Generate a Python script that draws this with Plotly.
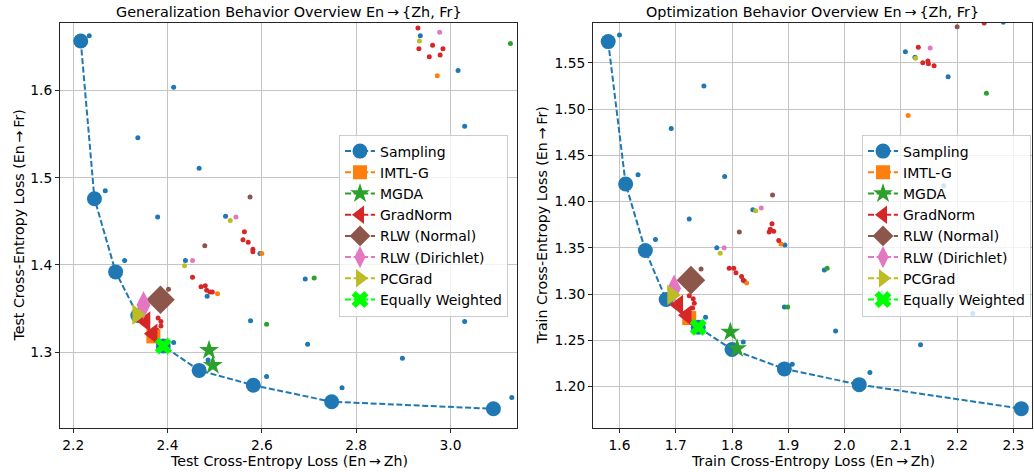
import plotly.graph_objects as go

FONT = "DejaVu Sans"
BLUE, ORANGE, GREEN, RED = "#1f77b4", "#ff7f0e", "#2ca02c", "#d62728"
BROWN, PINK, OLIVE, LIME = "#8c564b", "#e377c2", "#bcbd22", "#00ff00"

# ---------------- Left: test (generalization) ----------------
test_sampling_x = [2.216, 2.245, 2.290, 2.337, 2.391, 2.467, 2.582, 2.748, 3.091]
test_sampling_y = [1.657, 1.476, 1.392, 1.342, 1.307, 1.279, 1.262, 1.243, 1.235]
test_imtl_x = [2.370]
test_imtl_y = [1.318]
test_mgda_x = [2.488, 2.496]
test_mgda_y = [1.302, 1.285]
test_gradnorm_x = [2.354, 2.369]
test_gradnorm_y = [1.335, 1.321]
test_rlwn_x = [2.385]
test_rlwn_y = [1.360]
test_rlwd_x = [2.349]
test_rlwd_y = [1.354]
test_pcgrad_x = [2.335]
test_pcgrad_y = [1.343]
test_ew_x = [2.391]
test_ew_y = [1.307]

test_dots_blue_x = [2.234, 2.413, 2.337, 2.467, 2.268, 2.379, 2.523, 2.936, 3.016, 3.030,
                    2.596, 2.438, 2.309, 2.484, 2.692, 2.576, 2.413, 2.697, 2.486, 2.610,
                    2.770, 2.898, 3.030, 3.130, 2.819]
test_dots_blue_y = [1.663, 1.604, 1.546, 1.511, 1.485, 1.455, 1.456, 1.663, 1.623, 1.559,
                    1.413, 1.405, 1.405, 1.364, 1.384, 1.336, 1.311, 1.309, 1.291, 1.272,
                    1.259, 1.293, 1.335, 1.248, 1.357]
test_dots_orange_x = [2.972, 2.600, 2.506]
test_dots_orange_y = [1.617, 1.413, 1.367]
test_dots_green_x = [3.127, 2.711, 2.610]
test_dots_green_y = [1.654, 1.385, 1.332]
test_dots_red_x = [2.931, 2.933, 2.962, 2.984, 2.955, 2.978, 2.563, 2.560, 2.571, 2.581,
                   2.581, 2.453, 2.471, 2.480, 2.483, 2.490, 2.495, 2.380, 2.386, 2.386, 2.378]
test_dots_red_y = [1.672, 1.648, 1.652, 1.648, 1.639, 1.641, 1.438, 1.429, 1.426, 1.418,
                   1.415, 1.386, 1.375, 1.376, 1.371, 1.369, 1.369, 1.339, 1.335, 1.330, 1.325]
test_dots_pink_x = [2.977, 2.545, 2.453]
test_dots_pink_y = [1.667, 1.455, 1.405]
test_dots_olive_x = [2.934, 2.533, 2.436]
test_dots_olive_y = [1.657, 1.451, 1.399]
test_dots_brown_x = [2.479, 2.402, 2.575]
test_dots_brown_y = [1.422, 1.372, 1.478]

# ---------------- Right: train (optimization) ----------------
train_sampling_x = [1.580, 1.611, 1.646, 1.683, 1.740, 1.800, 1.893, 2.026, 2.314]
train_sampling_y = [1.573, 1.419, 1.347, 1.294, 1.264, 1.240, 1.219, 1.202, 1.176]
train_imtl_x = [1.724]
train_imtl_y = [1.274]
train_mgda_x = [1.797, 1.809]
train_mgda_y = [1.259, 1.241]
train_gradnorm_x = [1.705, 1.720]
train_gradnorm_y = [1.288, 1.277]
train_rlwn_x = [1.727]
train_rlwn_y = [1.315]
train_rlwd_x = [1.697]
train_rlwd_y = [1.306]
train_pcgrad_x = [1.693]
train_pcgrad_y = [1.299]
train_ew_x = [1.740]
train_ew_y = [1.264]

train_dots_blue_x = [1.600, 1.750, 1.692, 1.633, 1.787, 1.724, 2.108, 2.184, 2.282, 2.125,
                     1.837, 2.176, 1.664, 1.894, 1.773, 1.822, 1.964, 1.893, 1.753, 1.984,
                     1.820, 1.907, 2.045, 2.135, 2.228, 2.066]
train_dots_blue_y = [1.580, 1.525, 1.479, 1.429, 1.427, 1.381, 1.562, 1.535, 1.594, 1.556,
                     1.391, 1.417, 1.359, 1.353, 1.350, 1.314, 1.326, 1.286, 1.275, 1.260,
                     1.248, 1.224, 1.215, 1.245, 1.279, 1.301]
train_dots_orange_x = [2.113, 1.887, 1.826]
train_dots_orange_y = [1.493, 1.354, 1.312]
train_dots_green_x = [2.252, 1.969, 1.899]
train_dots_green_y = [1.517, 1.328, 1.286]
train_dots_red_x = [2.248, 2.131, 2.139, 2.148, 2.149, 2.159, 1.871, 1.868, 1.874, 1.866,
                    1.883, 1.795, 1.803, 1.807, 1.817, 1.820, 1.724, 1.731, 1.733, 1.730]
train_dots_red_y = [1.593, 1.567, 1.550, 1.552, 1.549, 1.547, 1.376, 1.370, 1.368, 1.367,
                    1.358, 1.328, 1.328, 1.323, 1.319, 1.315, 1.298, 1.295, 1.290, 1.285]
train_dots_pink_x = [2.152, 1.852, 1.786]
train_dots_pink_y = [1.566, 1.393, 1.350]
train_dots_olive_x = [2.126, 1.842, 1.779, 1.720]
train_dots_olive_y = [1.555, 1.390, 1.344, 1.309]
train_dots_brown_x = [2.200, 1.872, 1.813, 1.745]
train_dots_brown_y = [1.589, 1.407, 1.367, 1.327]

method_names = ["Sampling", "IMTL-G", "MGDA", "GradNorm", "RLW (Normal)",
                "RLW (Dirichlet)", "PCGrad", "Equally Weighted"]
method_colors = [BLUE, ORANGE, GREEN, RED, BROWN, PINK, OLIVE, LIME]
method_symbols = ["circle", "square", "star", "triangle-left", "diamond",
                  "diamond-tall", "triangle-right", "x"]
method_sizes = [15, 14, 15, 18, 22, 20, 18, 15]

test_methods = [(test_sampling_x, test_sampling_y), (test_imtl_x, test_imtl_y),
                (test_mgda_x, test_mgda_y), (test_gradnorm_x, test_gradnorm_y),
                (test_rlwn_x, test_rlwn_y), (test_rlwd_x, test_rlwd_y),
                (test_pcgrad_x, test_pcgrad_y), (test_ew_x, test_ew_y)]
train_methods = [(train_sampling_x, train_sampling_y), (train_imtl_x, train_imtl_y),
                 (train_mgda_x, train_mgda_y), (train_gradnorm_x, train_gradnorm_y),
                 (train_rlwn_x, train_rlwn_y), (train_rlwd_x, train_rlwd_y),
                 (train_pcgrad_x, train_pcgrad_y), (train_ew_x, train_ew_y)]
test_dots = [(test_dots_blue_x, test_dots_blue_y, BLUE), (test_dots_orange_x, test_dots_orange_y, ORANGE),
             (test_dots_green_x, test_dots_green_y, GREEN), (test_dots_red_x, test_dots_red_y, RED),
             (test_dots_pink_x, test_dots_pink_y, PINK), (test_dots_olive_x, test_dots_olive_y, OLIVE),
             (test_dots_brown_x, test_dots_brown_y, BROWN)]
train_dots = [(train_dots_blue_x, train_dots_blue_y, BLUE), (train_dots_orange_x, train_dots_orange_y, ORANGE),
              (train_dots_green_x, train_dots_green_y, GREEN), (train_dots_red_x, train_dots_red_y, RED),
              (train_dots_pink_x, train_dots_pink_y, PINK), (train_dots_olive_x, train_dots_olive_y, OLIVE),
              (train_dots_brown_x, train_dots_brown_y, BROWN)]

W, H = 1034, 472
MT, MB = 23, 44
L1, R1 = 60, 517
L2, R2 = 593, 1032

fig = go.Figure()


def split_points(xs, ys):
    """Insert gaps so that separate points of a method are not joined."""
    gx, gy = [], []
    for i, (a, b) in enumerate(zip(xs, ys)):
        if i:
            gx.append(None)
            gy.append(None)
        gx.append(a)
        gy.append(b)
    return gx, gy


def add_panel(methods, dots, xa, ya, legend):
    for dx, dy, col in dots:
        fig.add_trace(go.Scatter(x=dx, y=dy, mode="markers", xaxis=xa, yaxis=ya,
                                 marker=dict(color=col, size=5), showlegend=False,
                                 hoverinfo="skip"))
    for i, (mx, my) in enumerate(methods):
        if i == 0:
            px, py = mx, my
        else:
            px, py = split_points(mx, my)
        fig.add_trace(go.Scatter(
            x=px, y=py, mode="lines+markers", name=method_names[i], xaxis=xa, yaxis=ya,
            legend=legend, connectgaps=False,
            line=dict(color=method_colors[i], dash="6px,2.6px", width=2),
            marker=dict(color=method_colors[i], symbol=method_symbols[i],
                        size=method_sizes[i], line=dict(width=0))))


add_panel(test_methods, test_dots, "x", "y", "legend")
add_panel(train_methods, train_dots, "x2", "y2", "legend2")

axis_common = dict(showgrid=True, gridcolor="#c4c4c4", gridwidth=1, zeroline=False,
                   showline=True, linecolor="#262626", linewidth=1, mirror=True,
                   ticks="outside", ticklen=4, tickcolor="#262626",
                   tickfont=dict(family=FONT, size=13.8, color="#000000"),
                   automargin=False)

title_font = dict(family=FONT, size=14.4, color="#000000")
label_font = dict(family=FONT, size=14.2, color="#000000")
legend_common = dict(xanchor="right", y=1 - (134.5 - MT) / (H - MT - MB), yanchor="top",
                     bgcolor="rgba(255,255,255,0.8)", bordercolor="#cccccc", borderwidth=1,
                     font=dict(family=FONT, size=14, color="#000000"), tracegroupgap=0)

fig.update_layout(
    width=W, height=H,
    margin=dict(l=0, r=0, t=MT, b=MB),
    paper_bgcolor="white", plot_bgcolor="white",
    font=dict(family=FONT, size=14, color="#000000"),
    xaxis=dict(domain=[L1 / W, R1 / W], range=[2.172, 3.141], tick0=2.2, dtick=0.2,
               tickformat=".1f", **axis_common),
    yaxis=dict(domain=[0, 1], range=[1.2129, 1.6776], tick0=1.3, dtick=0.1, tickformat=".1f",
               **axis_common),
    xaxis2=dict(domain=[L2 / W, R2 / W], range=[1.553, 2.333], tick0=1.6, dtick=0.1,
                tickformat=".1f", anchor="y2", **axis_common),
    yaxis2=dict(domain=[0, 1], range=[1.1551, 1.5931], tick0=1.2, dtick=0.05, tickformat=".2f",
                anchor="x2", **axis_common),
    legend=dict(x=508 / W, **legend_common),
    legend2=dict(x=1031 / W, **legend_common),
)

arrow = "\u2009\u2192\u2009"
annots = [
    # panel titles
    dict(text="Generalization Behavior Overview En" + arrow + "{Zh, Fr}",
         x=(L1 + R1) / 2 / W, y=1, yanchor="middle", yshift=MT - 12, font=title_font),
    dict(text="Optimization Behavior Overview En" + arrow + "{Zh, Fr}",
         x=(L2 + R2) / 2 / W, y=1, yanchor="middle", yshift=MT - 12, font=title_font),
    # x axis titles
    dict(text="Test Cross-Entropy Loss (En" + arrow + "Zh)",
         x=(L1 + R1) / 2 / W, y=0, yanchor="middle", yshift=-(460.5 - (H - MB)), font=label_font),
    dict(text="Train Cross-Entropy Loss (En" + arrow + "Zh)",
         x=(L2 + R2) / 2 / W, y=0, yanchor="middle", yshift=-(460.5 - (H - MB)), font=label_font),
    # y axis titles
    dict(text="Test Cross-Entropy Loss (En" + arrow + "Fr)", textangle=-90,
         x=18 / W, y=0.5, yanchor="middle", font=label_font),
    dict(text="Train Cross-Entropy Loss (En" + arrow + "Fr)", textangle=-90,
         x=541 / W, y=0.5, yanchor="middle", font=label_font),
]
for a in annots:
    a.update(xref="paper", yref="paper", xanchor="center", showarrow=False)
fig.update_layout(annotations=annots)

# remove the browser's default 8px body margin so the figure sits at the window origin
fig.write_html("out.html", config={"displayModeBar": False},
               post_script="document.body.style.margin='0';")
